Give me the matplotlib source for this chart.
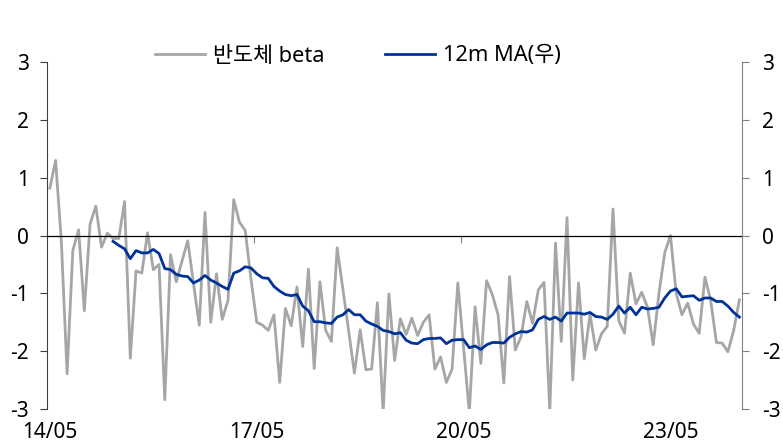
import numpy as np
import matplotlib
matplotlib.use("Agg")
import matplotlib.pyplot as plt

plt.rcParams['font.family'] = ['Noto Sans', 'Noto Sans CJK KR', 'DejaVu Sans']
plt.rcParams['axes.unicode_minus'] = False

# monthly, 2014/05 .. 2024/05
beta = [0.82, 1.30, -0.10, -2.39, -0.26, 0.10, -1.30, 0.20, 0.51, -0.20,
        0.04, -0.05, -0.05, 0.59, -2.12, -0.61, -0.65, 0.05, -0.59, -0.50,
        -2.84, -0.33, -0.80, -0.44, -0.09, -0.83, -1.55, 0.40, -1.50, -0.66,
        -1.45, -1.12, 0.62, 0.23, 0.09, -0.75, -1.50, -1.55, -1.64, -1.37,
        -2.54, -1.26, -1.56, -0.89, -1.92, -0.58, -2.30, -0.80, -1.64, -1.83,
        -0.21, -0.93, -1.65, -2.38, -1.63, -2.32, -2.31, -1.16, -3.06, -1.01,
        -2.16, -1.44, -1.71, -1.43, -1.73, -1.50, -1.37, -2.31, -2.10, -2.54,
        -2.31, -0.82, -1.94, -3.06, -1.23, -2.21, -0.78, -1.02, -1.37, -2.55,
        -0.71, -1.98, -1.75, -1.14, -1.52, -0.94, -0.81, -3.04, -0.13, -1.83,
        0.31, -2.50, -0.82, -2.13, -1.36, -1.98, -1.70, -1.57, 0.46, -1.47,
        -1.69, -0.65, -1.18, -0.98, -1.24, -1.89, -1.00, -0.30, 0.00, -1.00,
        -1.37, -1.17, -1.53, -1.69, -0.72, -1.12, -1.85, -1.86, -2.01, -1.64,
        -1.11]

# 12m moving average, first value at month index 11
ma_start = 11
ma12 = [-0.10, -0.17, -0.23, -0.40, -0.26, -0.30, -0.30, -0.24, -0.31,
        -0.57, -0.59, -0.67, -0.70, -0.71, -0.82, -0.77, -0.69, -0.77, -0.82,
        -0.88, -0.93, -0.65, -0.61, -0.54, -0.56, -0.66, -0.73, -0.74, -0.88,
        -0.96, -1.02, -1.04, -1.02, -1.22, -1.30, -1.49, -1.49, -1.51, -1.52,
        -1.41, -1.37, -1.28, -1.37, -1.37, -1.48, -1.53, -1.57, -1.64, -1.66,
        -1.70, -1.68, -1.81, -1.86, -1.87, -1.80, -1.78, -1.78, -1.77, -1.87,
        -1.81, -1.80, -1.80, -1.94, -1.91, -1.97, -1.89, -1.85, -1.85, -1.86,
        -1.76, -1.70, -1.66, -1.67, -1.63, -1.45, -1.40, -1.45, -1.41, -1.48,
        -1.34, -1.34, -1.34, -1.36, -1.33, -1.40, -1.41, -1.45, -1.36, -1.22,
        -1.34, -1.24, -1.37, -1.24, -1.27, -1.26, -1.24, -1.08, -0.96, -0.92,
        -1.06, -1.05, -1.04, -1.12, -1.08, -1.08, -1.14, -1.14, -1.22, -1.33,
        -1.41]

xlabels = ['14/05', '17/05', '20/05', '23/05']
xlabel_pos = [0, 36, 72, 108]
yticks = [3, 2, 1, 0, -1, -2, -3]

x = np.arange(len(beta))
x_ma = np.arange(ma_start, ma_start + len(ma12))

fig = plt.figure(figsize=(7.83, 4.47), dpi=100)
ax = fig.add_axes([0.060, 0.085, 0.888, 0.776])
ax2 = ax.twinx()

l1, = ax.plot(x, beta, color='#A6A6A6', lw=2.0, label='반도체 beta')
l2, = ax2.plot(x_ma, ma12, color='#003399', lw=2.0, label='12m MA(우)')

for a in (ax, ax2):
    a.set_xlim(-0.5, 120.5)
    a.set_ylim(-3, 3)
    a.set_yticks(yticks)
    a.spines['top'].set_visible(False)

ax.spines['right'].set_visible(False)
ax.spines['left'].set_color('#404040')
ax.spines['bottom'].set_position(('data', 0))
ax.spines['bottom'].set_color('black')
ax.spines['bottom'].set_linewidth(0.9)
ax.set_xticks([35.5, 71.5, 107.5])
ax.set_xticklabels([])
ax.tick_params(axis='x', direction='out', length=5, color='#808080')
ax.tick_params(axis='y', labelsize=15, length=5, color='#404040', pad=8)

ax2.spines['left'].set_visible(False)
ax2.spines['bottom'].set_visible(False)
ax2.spines['right'].set_color('#808080')
ax2.tick_params(axis='y', labelsize=15, length=5, color='#808080', pad=9)

sec = ax.secondary_xaxis(0)
sec.spines['bottom'].set_visible(False)
sec.set_xticks(xlabel_pos)
sec.set_xticklabels(xlabels)
sec.tick_params(length=0, labelsize=15, pad=9)

fig.legend([l1, l2], [l1.get_label(), l2.get_label()], loc='center',
           bbox_to_anchor=(358 / 783, 1 - 56 / 447), ncol=2, frameon=False,
           fontsize=15.7, handlelength=2.3, columnspacing=2.8, handletextpad=0.35)

fig.savefig('out.png', dpi=100)
